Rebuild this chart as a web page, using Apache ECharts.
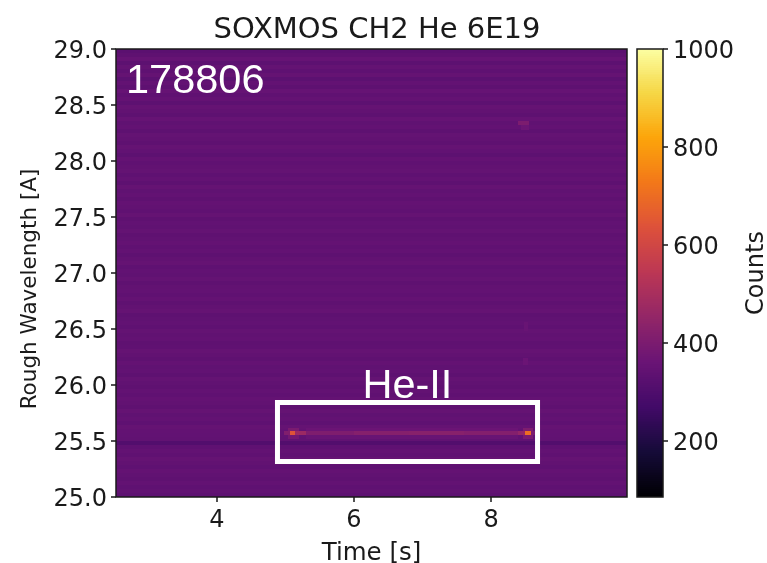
<!DOCTYPE html>
<html><head><meta charset="utf-8">
<style>html,body{margin:0;padding:0;background:#fff}#c{width:767px;height:563px}#c canvas{filter:blur(.45px)}</style>
<script src="https://cdn.jsdelivr.net/npm/echarts@6/dist/echarts.min.js"></script>
</head><body><div id="c"></div>
<script>
const chartTitle = 'SOXMOS CH2 He 6E19';
const timeTicks = [4, 6, 8];
const countTicks = [200, 400, 600, 800, 1000];
const timeRange = [2.526, 9.985];
const wavelengthRange = [25, 29];
const countRange = [86, 1000];
const infernoStops = ['#000004','#160b39','#420a68','#6a1475','#932667','#bc3754','#dd513a','#f37819','#fca50a','#f6d746','#fcffa4'];
// one value per wavelength row, from 25.0 A upward
const rowCounts = [
 330,340,336,344,334,340,346,336,342,348,337,344,336,306,340,343,
 345,349,336,345,338,348,334,342,346,337,344,335,340,347,333,343,
 338,346,335,342,348,337,334,345,340,347,336,343,338,332,348,342,
 335,346,337,344,341,334,347,338,343,336,348,342,333,345,337,346,
 340,335,347,338,343,334,349,337,342,346,335,345,338,348,332,344,
 336,347,341,337,346,331,343,349,335,342,347,333,345,338,350,332,
 342,348,330,346,337,350,333,344,329,349,336,347,330,350,334,326
];
// brighter cells: [time start, time end, wavelength start, wavelength end, counts]
const brightCells = [
 [4.98,5.06,25.55,25.59,410],[5.06,5.14,25.55,25.59,640],[5.14,5.3,25.55,25.59,470],
 [5.04,5.2,25.59,25.62,395],[5.04,5.2,25.52,25.55,380],
 [5.3,6.0,25.55,25.59,405],[6.0,6.8,25.55,25.59,420],[6.8,7.6,25.55,25.59,425],[7.6,8.4,25.55,25.59,415],
 [8.4,8.5,25.55,25.59,450],[8.5,8.58,25.55,25.59,700],[8.58,8.66,25.55,25.59,400],
 [8.47,8.62,25.59,25.62,405],[8.47,8.62,25.52,25.55,395],
 [5.3,8.4,25.59,25.62,362],[5.3,8.4,25.52,25.55,356],
 [8.4,8.56,28.32,28.36,400],[8.44,8.56,28.28,28.32,365],
 [8.46,8.54,26.18,26.24,362],[8.48,8.54,26.48,26.56,356]
];
const heliumBox = [4.883, 8.679, 25.317, 25.844];
const shotLabel = ['178806', 2.672, 28.71];
const lineLabel = ['He-II', 6.78, 25.99];

const fontD = 'DejaVu Sans', ink = '#1a1a1a';
const rowStep = (wavelengthRange[1] - wavelengthRange[0]) / rowCounts.length;
const cells = rowCounts.map((c, i) => [timeRange[0], timeRange[1], wavelengthRange[0] + i * rowStep, wavelengthRange[0] + (i + 1) * rowStep, c]).concat(brightCells);
const barCells = [];
for (let v = countRange[0]; v < countRange[1]; v += 4) barCells.push([0, 1, v, v + 4, v]);

function cellItem(params, api) {
  const a = api.coord([api.value(0), api.value(3)]);
  const b = api.coord([api.value(1), api.value(2)]);
  const x0 = Math.round(a[0]), y0 = Math.round(a[1]), x1 = Math.round(b[0]), y1 = Math.round(b[1]);
  return { type: 'rect', shape: { x: x0, y: y0, width: x1 - x0, height: y1 - y0 }, style: { fill: api.visual('color') } };
}
function frameItem(params, api) {
  const a = api.coord([api.value(0), api.value(3)]);
  const b = api.coord([api.value(1), api.value(2)]);
  return { type: 'rect', shape: { x: a[0], y: a[1], width: b[0] - a[0], height: b[1] - a[1] }, style: { fill: 'none', stroke: ink, lineWidth: 1.5 } };
}
const tickStyle = { color: ink, width: 1.5 };
const yLabel = { fontFamily: fontD, fontSize: 24, color: ink, verticalAlign: 'top', lineHeight: 5 };
const chart = echarts.init(document.getElementById('c'), null, { renderer: 'canvas' });
chart.setOption({
  animation: false,
  backgroundColor: '#fff',
  title: { text: chartTitle, left: 372, top: 11, textAlign: 'center', textStyle: { fontFamily: fontD, fontSize: 29, fontWeight: 'normal', color: ink } },
  grid: [
    { left: 116, top: 49, width: 511, height: 448, containLabel: false, outerBoundsMode: 'none' },
    { left: 637, top: 49, width: 26, height: 448, containLabel: false, outerBoundsMode: 'none' }
  ],
  xAxis: [
    { type: 'value', gridIndex: 0, min: timeRange[0], max: timeRange[1], name: 'Time [s]', nameLocation: 'middle', nameGap: 44,
      nameTextStyle: { fontFamily: fontD, color: ink, fontSize: 24.5 },
      splitLine: { show: false }, axisLine: { show: false, onZero: false },
      axisTick: { show: true, length: 5, lineStyle: tickStyle, customValues: timeTicks },
      axisLabel: { fontFamily: fontD, fontSize: 24, color: ink, margin: 12, customValues: timeTicks } },
    { type: 'value', gridIndex: 1, min: 0, max: 1, show: false }
  ],
  yAxis: [
    { type: 'value', gridIndex: 0, min: wavelengthRange[0], max: wavelengthRange[1], interval: 0.5, name: 'Rough Wavelength [A]', nameLocation: 'middle', nameGap: 75,
      nameTextStyle: { fontFamily: fontD, color: ink, fontSize: 21.5, padding: [0, 32, 0, 0] },
      splitLine: { show: false }, axisLine: { show: false, onZero: false },
      axisTick: { show: true, length: 5, lineStyle: tickStyle },
      axisLabel: Object.assign({}, yLabel, { margin: 9, formatter: v => v.toFixed(1) }) },
    { type: 'value', gridIndex: 1, position: 'right', min: countRange[0], max: countRange[1], name: 'Counts', nameLocation: 'middle', nameGap: 82, nameRotate: 90,
      nameTextStyle: { fontFamily: fontD, color: ink, fontSize: 24 },
      splitLine: { show: false }, axisLine: { show: false, onZero: false },
      axisTick: { show: true, length: 5, lineStyle: tickStyle, customValues: countTicks },
      axisLabel: Object.assign({}, yLabel, { margin: 10, customValues: countTicks, formatter: v => String(v) }) }
  ],
  visualMap: { show: false, seriesIndex: [0, 1], dimension: 4, min: countRange[0], max: countRange[1], inRange: { color: infernoStops } },
  series: [
    { type: 'custom', coordinateSystem: 'cartesian2d', xAxisIndex: 0, yAxisIndex: 0, data: cells, renderItem: cellItem, encode: { x: [0, 1], y: [2, 3] }, silent: true, clip: true, z: 1 },
    { type: 'custom', coordinateSystem: 'cartesian2d', xAxisIndex: 1, yAxisIndex: 1, data: barCells, renderItem: cellItem, encode: { x: [0, 1], y: [2, 3] }, silent: true, clip: true, z: 1 },
    { type: 'custom', coordinateSystem: 'cartesian2d', xAxisIndex: 0, yAxisIndex: 0, data: [[timeRange[0], timeRange[1], wavelengthRange[0], wavelengthRange[1]]], renderItem: frameItem, encode: { x: [0, 1], y: [2, 3] }, silent: true, z: 3 },
    { type: 'custom', coordinateSystem: 'cartesian2d', xAxisIndex: 1, yAxisIndex: 1, data: [[0, 1, countRange[0], countRange[1]]], renderItem: frameItem, encode: { x: [0, 1], y: [2, 3] }, silent: true, z: 3 },
    { type: 'custom', coordinateSystem: 'cartesian2d', xAxisIndex: 0, yAxisIndex: 0, data: [heliumBox], silent: true, z: 5, encode: { x: [0, 1], y: [2, 3] },
      renderItem(params, api) {
        const a = api.coord([api.value(0), api.value(3)]), b = api.coord([api.value(1), api.value(2)]);
        const s = api.coord([shotLabel[1], shotLabel[2]]), l = api.coord([lineLabel[1], lineLabel[2]]);
        const txt = (t, p, align) => ({ type: 'text', x: p[0], y: p[1], style: { text: t, fill: '#fff', fontFamily: 'Liberation Sans', fontSize: 41.5, textAlign: align, textVerticalAlign: 'middle' } });
        return { type: 'group', children: [
          { type: 'rect', shape: { x: a[0], y: a[1], width: b[0] - a[0], height: b[1] - a[1] }, style: { fill: 'none', stroke: '#fff', lineWidth: 5 } },
          txt(shotLabel[0], s, 'left'), txt(lineLabel[0], l, 'center')
        ] };
      } }
  ]
});
</script></body></html>
